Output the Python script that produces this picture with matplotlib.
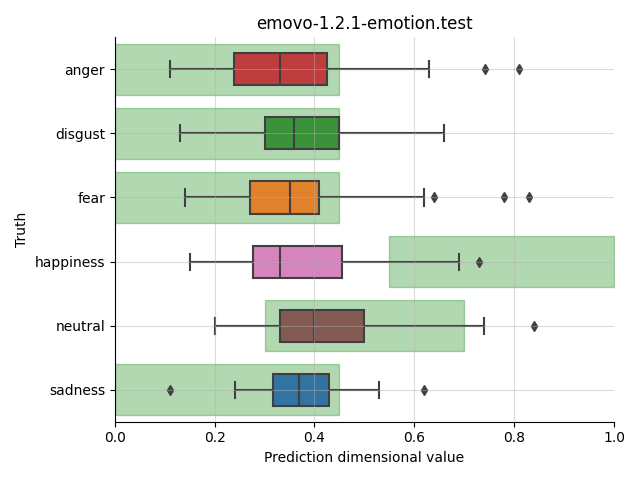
import matplotlib
matplotlib.use("Agg")
import matplotlib.pyplot as plt
import matplotlib.colors as mcolors
import colorsys

categories = ["anger", "disgust", "fear", "happiness", "neutral", "sadness"]
whislo = [0.110, 0.130, 0.140, 0.150, 0.200, 0.240]
q1 = [0.239, 0.301, 0.270, 0.276, 0.331, 0.316]
med = [0.331, 0.359, 0.351, 0.331, 0.399, 0.369]
q3 = [0.426, 0.450, 0.409, 0.455, 0.500, 0.430]
whishi = [0.629, 0.659, 0.619, 0.689, 0.739, 0.529]
fliers = [[0.741, 0.810], [], [0.639, 0.780, 0.830], [0.729], [0.840], [0.111, 0.620]]
band_lo = [0.0, 0.0, 0.0, 0.55, 0.30, 0.0]
band_hi = [0.45, 0.45, 0.45, 1.0, 0.70, 0.45]
base_colors = ["tab:red", "tab:green", "tab:orange", "tab:pink", "tab:brown", "tab:blue"]


def desat(c, s=0.75):
    r, g, b = mcolors.to_rgb(c)
    h, l, sat = colorsys.rgb_to_hls(r, g, b)
    return colorsys.hls_to_rgb(h, l, sat * s)


fig, ax = plt.subplots(figsize=(6.4, 4.8), dpi=100)
ax.set_axisbelow(False)
ax.grid(True, color="#b0b0b0", alpha=0.45, linewidth=0.8)

positions = list(range(len(categories)))
for p, lo, hi in zip(positions, band_lo, band_hi):
    ax.fill_between([lo, hi], p - 0.4, p + 0.4, color="green", alpha=0.3, linewidth=1, zorder=1)

stats = []
for i in range(len(categories)):
    stats.append(dict(whislo=whislo[i], q1=q1[i], med=med[i], q3=q3[i],
                      whishi=whishi[i], fliers=fliers[i]))

gray = "#3f3f3f"
bp = ax.bxp(stats, positions=positions, vert=False, widths=0.5, patch_artist=True,
            boxprops=dict(edgecolor=gray, linewidth=1.5),
            medianprops=dict(color=gray, linewidth=1.5),
            whiskerprops=dict(color=gray, linewidth=1.5),
            capprops=dict(color=gray, linewidth=1.5),
            flierprops=dict(marker="d", markerfacecolor=gray, markeredgecolor=gray, markersize=5),
            capwidths=0.25, zorder=2)
for patch, c in zip(bp["boxes"], base_colors):
    patch.set_facecolor(desat(c))
    patch.set_zorder(2)

ax.set_yticks(positions)
ax.set_yticklabels(categories)
ax.set_ylim(len(categories) - 0.5, -0.5)
ax.set_xlim(0, 1)
ax.set_title("emovo-1.2.1-emotion.test")
ax.set_xlabel("Prediction dimensional value")
ax.set_ylabel("Truth")
ax.spines["top"].set_visible(False)
ax.spines["right"].set_visible(False)
for s in ("left", "bottom"):
    ax.spines[s].set_zorder(5)
fig.tight_layout()
fig.savefig("out.png", dpi=100)
